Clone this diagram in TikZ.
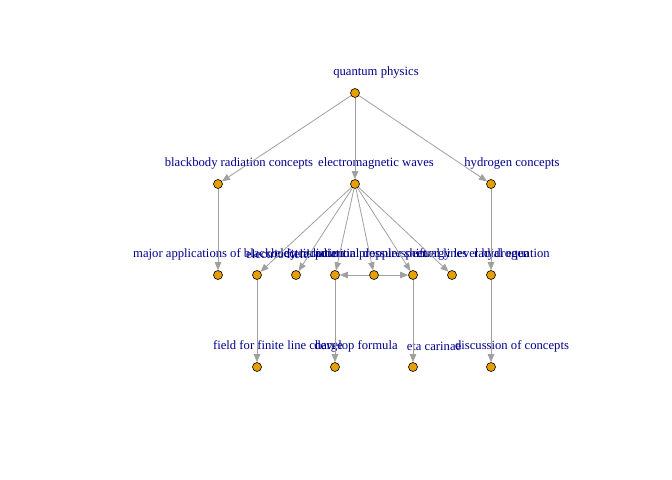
\documentclass[tikz,border=0pt]{standalone}
\usepackage{fontspec}
\setmainfont{Liberation Serif}
\usetikzlibrary{arrows.meta}
\definecolor{vfill}{HTML}{E69F00}
\definecolor{vlabel}{HTML}{00008B}
\definecolor{edgegray}{HTML}{A0A0A0}
\tikzset{
  vert/.style={circle, draw=black, fill=vfill, line width=0.6bp, minimum size=9bp, inner sep=0pt},
  vlab/.style={text=vlabel, font=\fontsize{12.7}{15}\selectfont, inner sep=0pt, xshift=21bp, yshift=21bp},
  edge/.style={draw=edgegray, line width=0.8bp, -{Triangle[length=8bp,width=6.5bp]}}
}
\begin{document}
\begin{tikzpicture}[x=1bp, y=-1bp]
    \useasboundingbox (0,0) rectangle (672,480);
    % vertices, positions in pixels
    \foreach \n/\x/\y/\t in {qp/355/93/quantum physics,
        bb/218/184/blackbody radiation concepts, em/355/184/electromagnetic waves, hy/491/184/hydrogen concepts,
        ma/218/275/major applications of blackbody radiation, ef/257/275/electric field,
        ep/296/275/electric potential, rp/335/275/radiation pressure, ds/374/275/doppler shift,
        sl/413/275/spectral lines, eh/452/275/energy level hydrogen, re/491/275/radial equation,
        fl/257/367/field for finite line charge, df/335/367/develop formula,
        ec/413/367/eta carinae, dc/491/367/discussion of concepts}
        {
            \node[vert, label={[vlab]center:\t}] (\n) at (\x,\y) {};
        }
    % edges
    \foreach \a/\b in {qp/bb, qp/em, qp/hy, bb/ma, em/ef, em/ep, em/rp, em/ds, em/sl, em/eh,
        hy/re, ds/rp, ds/sl, ef/fl, rp/df, sl/ec, re/dc}
        {
            \draw[edge] (\a) -- (\b);
        }
\end{tikzpicture}
\end{document}
